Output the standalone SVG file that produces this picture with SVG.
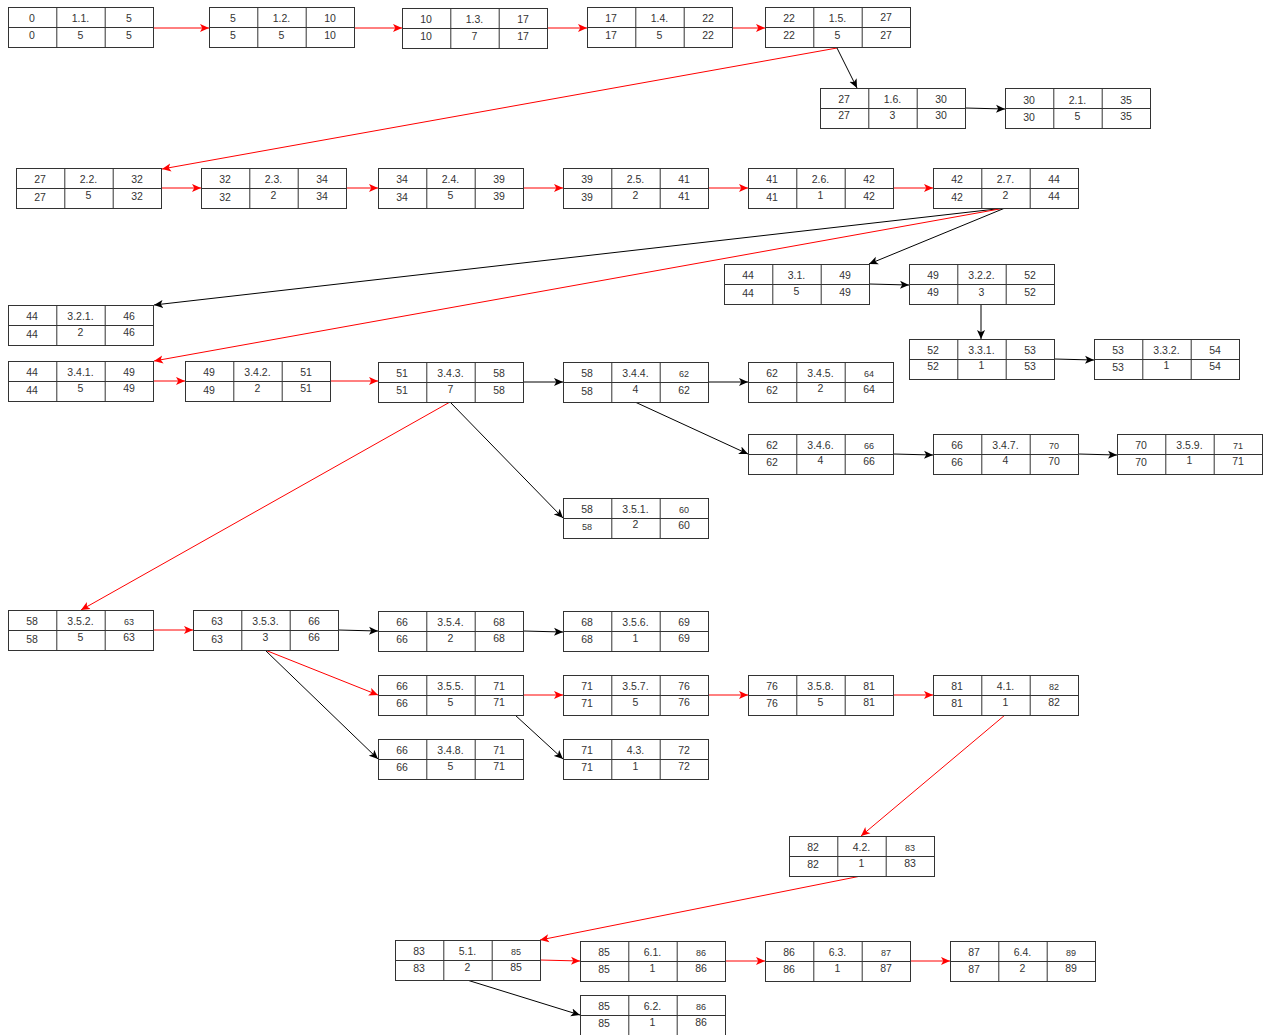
<svg xmlns="http://www.w3.org/2000/svg" xmlns:xlink="http://www.w3.org/1999/xlink" width="1263" height="1035" viewBox="0 0 1263 1035">
<style>
.bx{fill:#fff;stroke:#333;stroke-width:1}
.gl{fill:none;stroke:#333;stroke-width:1}
text{font-family:"Liberation Sans",Arial,sans-serif;font-size:10.5px;fill:#333;text-anchor:middle}
text.s{font-size:9px}
.r{fill:none;stroke:#ff0000;stroke-width:1;marker-end:url(#ar)}
.k{fill:none;stroke:#000;stroke-width:1;marker-end:url(#ak)}
</style>
<defs>
<marker id="ar" viewBox="0 0 10 10" refX="10" refY="5" markerWidth="9" markerHeight="9" orient="auto" markerUnits="userSpaceOnUse"><path d="M0,0.5 L10,5 L0,9.5 L2.5,5 z" fill="#ff0000"/></marker>
<marker id="ak" viewBox="0 0 10 10" refX="10" refY="5" markerWidth="9" markerHeight="9" orient="auto" markerUnits="userSpaceOnUse"><path d="M0,0.5 L10,5 L0,9.5 L2.5,5 z" fill="#000"/></marker>
<g id="box"><rect class="bx" x="0.5" y="0.5" width="145" height="40"/><path class="gl" d="M48.8 0.5V40.5M97.2 0.5V40.5M0.5 20.5H145.5"/></g>
</defs>
<rect width="1263" height="1035" fill="#fff"/>
<g id="connectors">
<path class="r" d="M153 28H209"/>
<path class="r" d="M354 28H402"/>
<path class="r" d="M547 28H587"/>
<path class="r" d="M732 28H765"/>
<path class="r" d="M837 48L162 169"/>
<path class="k" d="M837 48L857 88"/>
<path class="k" d="M965 108L1005 109"/>
<path class="r" d="M161 188H201"/>
<path class="r" d="M346 188H378"/>
<path class="r" d="M523 188H563"/>
<path class="r" d="M708 188H748"/>
<path class="r" d="M893 188H933"/>
<path class="k" d="M1005 208L154 305"/>
<path class="r" d="M1005 208L154 361"/>
<path class="k" d="M1005 208L869 264"/>
<path class="k" d="M869 284L909 285"/>
<path class="k" d="M981 304V339"/>
<path class="k" d="M1054 359L1094 360"/>
<path class="r" d="M153 381H185"/>
<path class="r" d="M330 381H378"/>
<path class="k" d="M523 382H563"/>
<path class="k" d="M708 382L748 382"/>
<path class="k" d="M635 402L748 454"/>
<path class="k" d="M893 454L933 455"/>
<path class="k" d="M1078 454L1117 455"/>
<path class="k" d="M450 402L563 518"/>
<path class="r" d="M450 402L81 610"/>
<path class="r" d="M153 630H193"/>
<path class="k" d="M338 630L378 631"/>
<path class="k" d="M523 631L563 632"/>
<path class="r" d="M265 650L378 695"/>
<path class="k" d="M265 650L378 759"/>
<path class="r" d="M523 695H563"/>
<path class="r" d="M708 695H748"/>
<path class="r" d="M893 695H933"/>
<path class="k" d="M515 715L563 759"/>
<path class="r" d="M1005 715L861 836"/>
<path class="r" d="M861 876L540 940"/>
<path class="r" d="M540 960L580 961"/>
<path class="r" d="M725 961H765"/>
<path class="r" d="M910 961H950"/>
<path class="k" d="M467 980L580 1015"/>
</g>
<g id="n1-1" transform="translate(8,7)"><use href="#box"/><text x="24" y="15">0</text><text x="72.5" y="15">1.1.</text><text x="121" y="15">5</text><text x="24" y="32">0</text><text x="72.5" y="32">5</text><text x="121" y="32">5</text></g>
<g id="n1-2" transform="translate(209,7)"><use href="#box"/><text x="24" y="15">5</text><text x="72.5" y="15">1.2.</text><text x="121" y="15">10</text><text x="24" y="32">5</text><text x="72.5" y="32">5</text><text x="121" y="32">10</text></g>
<g id="n1-3" transform="translate(402,8)"><use href="#box"/><text x="24" y="15">10</text><text x="72.5" y="15">1.3.</text><text x="121" y="15">17</text><text x="24" y="32">10</text><text x="72.5" y="32">7</text><text x="121" y="32">17</text></g>
<g id="n1-4" transform="translate(587,7)"><use href="#box"/><text x="24" y="15">17</text><text x="72.5" y="15">1.4.</text><text x="121" y="15">22</text><text x="24" y="32">17</text><text x="72.5" y="32">5</text><text x="121" y="32">22</text></g>
<g id="n1-5" transform="translate(765,7)"><use href="#box"/><text x="24" y="15">22</text><text x="72.5" y="15">1.5.</text><text x="121" y="14">27</text><text x="24" y="32">22</text><text x="72.5" y="32">5</text><text x="121" y="32">27</text></g>
<g id="n1-6" transform="translate(820,88)"><use href="#box"/><text x="24" y="15">27</text><text x="72.5" y="15">1.6.</text><text x="121" y="15">30</text><text x="24" y="31">27</text><text x="72.5" y="31">3</text><text x="121" y="31">30</text></g>
<g id="n2-1" transform="translate(1005,88)"><use href="#box"/><text x="24" y="16">30</text><text x="72.5" y="16">2.1.</text><text x="121" y="16">35</text><text x="24" y="33">30</text><text x="72.5" y="32">5</text><text x="121" y="32">35</text></g>
<g id="n2-2" transform="translate(16,168)"><use href="#box"/><text x="24" y="15">27</text><text x="72.5" y="15">2.2.</text><text x="121" y="15">32</text><text x="24" y="33">27</text><text x="72.5" y="31">5</text><text x="121" y="32">32</text></g>
<g id="n2-3" transform="translate(201,168)"><use href="#box"/><text x="24" y="15">32</text><text x="72.5" y="15">2.3.</text><text x="121" y="15">34</text><text x="24" y="33">32</text><text x="72.5" y="31">2</text><text x="121" y="32">34</text></g>
<g id="n2-4" transform="translate(378,168)"><use href="#box"/><text x="24" y="15">34</text><text x="72.5" y="15">2.4.</text><text x="121" y="15">39</text><text x="24" y="33">34</text><text x="72.5" y="31">5</text><text x="121" y="32">39</text></g>
<g id="n2-5" transform="translate(563,168)"><use href="#box"/><text x="24" y="15">39</text><text x="72.5" y="15">2.5.</text><text x="121" y="15">41</text><text x="24" y="33">39</text><text x="72.5" y="31">2</text><text x="121" y="32">41</text></g>
<g id="n2-6" transform="translate(748,168)"><use href="#box"/><text x="24" y="15">41</text><text x="72.5" y="15">2.6.</text><text x="121" y="15">42</text><text x="24" y="33">41</text><text x="72.5" y="31">1</text><text x="121" y="32">42</text></g>
<g id="n2-7" transform="translate(933,168)"><use href="#box"/><text x="24" y="15">42</text><text x="72.5" y="15">2.7.</text><text x="121" y="15">44</text><text x="24" y="33">42</text><text x="72.5" y="31">2</text><text x="121" y="32">44</text></g>
<g id="n3-1" transform="translate(724,264)"><use href="#box"/><text x="24" y="15">44</text><text x="72.5" y="15">3.1.</text><text x="121" y="15">49</text><text x="24" y="33">44</text><text x="72.5" y="31">5</text><text x="121" y="32">49</text></g>
<g id="n3-2-2" transform="translate(909,264)"><use href="#box"/><text x="24" y="15">49</text><text x="72.5" y="15">3.2.2.</text><text x="121" y="15">52</text><text x="24" y="32">49</text><text x="72.5" y="32">3</text><text x="121" y="32">52</text></g>
<g id="n3-2-1" transform="translate(8,305)"><use href="#box"/><text x="24" y="15">44</text><text x="72.5" y="15">3.2.1.</text><text x="121" y="15">46</text><text x="24" y="33">44</text><text x="72.5" y="31">2</text><text x="121" y="31">46</text></g>
<g id="n3-3-1" transform="translate(909,339)"><use href="#box"/><text x="24" y="15">52</text><text x="72.5" y="15">3.3.1.</text><text x="121" y="15">53</text><text x="24" y="31">52</text><text x="72.5" y="30">1</text><text x="121" y="31">53</text></g>
<g id="n3-3-2" transform="translate(1094,339)"><use href="#box"/><text x="24" y="15">53</text><text x="72.5" y="15">3.3.2.</text><text x="121" y="15">54</text><text x="24" y="32">53</text><text x="72.5" y="30">1</text><text x="121" y="31">54</text></g>
<g id="n3-4-1" transform="translate(8,361)"><use href="#box"/><text x="24" y="15">44</text><text x="72.5" y="15">3.4.1.</text><text x="121" y="15">49</text><text x="24" y="33">44</text><text x="72.5" y="31">5</text><text x="121" y="31">49</text></g>
<g id="n3-4-2" transform="translate(185,361)"><use href="#box"/><text x="24" y="15">49</text><text x="72.5" y="15">3.4.2.</text><text x="121" y="15">51</text><text x="24" y="33">49</text><text x="72.5" y="31">2</text><text x="121" y="31">51</text></g>
<g id="n3-4-3" transform="translate(378,362)"><use href="#box"/><text x="24" y="15">51</text><text x="72.5" y="15">3.4.3.</text><text x="121" y="15">58</text><text x="24" y="32">51</text><text x="72.5" y="31">7</text><text x="121" y="32">58</text></g>
<g id="n3-4-4" transform="translate(563,362)"><use href="#box"/><text x="24" y="15">58</text><text x="72.5" y="15">3.4.4.</text><text class="s" x="121" y="15">62</text><text x="24" y="33">58</text><text x="72.5" y="31">4</text><text x="121" y="32">62</text></g>
<g id="n3-4-5" transform="translate(748,362)"><use href="#box"/><text x="24" y="15">62</text><text x="72.5" y="15">3.4.5.</text><text class="s" x="121" y="15">64</text><text x="24" y="32">62</text><text x="72.5" y="30">2</text><text x="121" y="31">64</text></g>
<g id="n3-4-6" transform="translate(748,434)"><use href="#box"/><text x="24" y="15">62</text><text x="72.5" y="15">3.4.6.</text><text class="s" x="121" y="15">66</text><text x="24" y="32">62</text><text x="72.5" y="30">4</text><text x="121" y="31">66</text></g>
<g id="n3-4-7" transform="translate(933,434)"><use href="#box"/><text x="24" y="15">66</text><text x="72.5" y="15">3.4.7.</text><text class="s" x="121" y="15">70</text><text x="24" y="32">66</text><text x="72.5" y="30">4</text><text x="121" y="31">70</text></g>
<g id="n3-5-9" transform="translate(1117,434)"><use href="#box"/><text x="24" y="15">70</text><text x="72.5" y="15">3.5.9.</text><text class="s" x="121" y="15">71</text><text x="24" y="32">70</text><text x="72.5" y="30">1</text><text x="121" y="31">71</text></g>
<g id="n3-5-1" transform="translate(563,498)"><use href="#box"/><text x="24" y="15">58</text><text x="72.5" y="15">3.5.1.</text><text class="s" x="121" y="15">60</text><text class="s" x="24" y="32">58</text><text x="72.5" y="30">2</text><text x="121" y="31">60</text></g>
<g id="n3-5-2" transform="translate(8,610)"><use href="#box"/><text x="24" y="15">58</text><text x="72.5" y="15">3.5.2.</text><text class="s" x="121" y="15">63</text><text x="24" y="33">58</text><text x="72.5" y="31">5</text><text x="121" y="31">63</text></g>
<g id="n3-5-3" transform="translate(193,610)"><use href="#box"/><text x="24" y="15">63</text><text x="72.5" y="15">3.5.3.</text><text x="121" y="15">66</text><text x="24" y="33">63</text><text x="72.5" y="31">3</text><text x="121" y="31">66</text></g>
<g id="n3-5-4" transform="translate(378,611)"><use href="#box"/><text x="24" y="15">66</text><text x="72.5" y="15">3.5.4.</text><text x="121" y="15">68</text><text x="24" y="32">66</text><text x="72.5" y="31">2</text><text x="121" y="31">68</text></g>
<g id="n3-5-6" transform="translate(563,611)"><use href="#box"/><text x="24" y="15">68</text><text x="72.5" y="15">3.5.6.</text><text x="121" y="15">69</text><text x="24" y="32">68</text><text x="72.5" y="31">1</text><text x="121" y="31">69</text></g>
<g id="n3-5-5" transform="translate(378,675)"><use href="#box"/><text x="24" y="15">66</text><text x="72.5" y="15">3.5.5.</text><text x="121" y="15">71</text><text x="24" y="32">66</text><text x="72.5" y="31">5</text><text x="121" y="31">71</text></g>
<g id="n3-5-7" transform="translate(563,675)"><use href="#box"/><text x="24" y="15">71</text><text x="72.5" y="15">3.5.7.</text><text x="121" y="15">76</text><text x="24" y="32">71</text><text x="72.5" y="31">5</text><text x="121" y="31">76</text></g>
<g id="n3-5-8" transform="translate(748,675)"><use href="#box"/><text x="24" y="15">76</text><text x="72.5" y="15">3.5.8.</text><text x="121" y="15">81</text><text x="24" y="32">76</text><text x="72.5" y="31">5</text><text x="121" y="31">81</text></g>
<g id="n4-1" transform="translate(933,675)"><use href="#box"/><text x="24" y="15">81</text><text x="72.5" y="15">4.1.</text><text class="s" x="121" y="15">82</text><text x="24" y="32">81</text><text x="72.5" y="31">1</text><text x="121" y="31">82</text></g>
<g id="n3-4-8" transform="translate(378,739)"><use href="#box"/><text x="24" y="15">66</text><text x="72.5" y="15">3.4.8.</text><text x="121" y="15">71</text><text x="24" y="32">66</text><text x="72.5" y="31">5</text><text x="121" y="31">71</text></g>
<g id="n4-3" transform="translate(563,739)"><use href="#box"/><text x="24" y="15">71</text><text x="72.5" y="15">4.3.</text><text x="121" y="15">72</text><text x="24" y="32">71</text><text x="72.5" y="31">1</text><text x="121" y="31">72</text></g>
<g id="n4-2" transform="translate(789,836)"><use href="#box"/><text x="24" y="15">82</text><text x="72.5" y="15">4.2.</text><text class="s" x="121" y="15">83</text><text x="24" y="32">82</text><text x="72.5" y="31">1</text><text x="121" y="31">83</text></g>
<g id="n5-1" transform="translate(395,940)"><use href="#box"/><text x="24" y="15">83</text><text x="72.5" y="15">5.1.</text><text class="s" x="121" y="15">85</text><text x="24" y="32">83</text><text x="72.5" y="31">2</text><text x="121" y="31">85</text></g>
<g id="n6-1" transform="translate(580,941)"><use href="#box"/><text x="24" y="15">85</text><text x="72.5" y="15">6.1.</text><text class="s" x="121" y="15">86</text><text x="24" y="32">85</text><text x="72.5" y="31">1</text><text x="121" y="31">86</text></g>
<g id="n6-3" transform="translate(765,941)"><use href="#box"/><text x="24" y="15">86</text><text x="72.5" y="15">6.3.</text><text class="s" x="121" y="15">87</text><text x="24" y="32">86</text><text x="72.5" y="31">1</text><text x="121" y="31">87</text></g>
<g id="n6-4" transform="translate(950,941)"><use href="#box"/><text x="24" y="15">87</text><text x="72.5" y="15">6.4.</text><text class="s" x="121" y="15">89</text><text x="24" y="32">87</text><text x="72.5" y="31">2</text><text x="121" y="31">89</text></g>
<g id="n6-2" transform="translate(580,995)"><use href="#box"/><text x="24" y="15">85</text><text x="72.5" y="15">6.2.</text><text class="s" x="121" y="15">86</text><text x="24" y="32">85</text><text x="72.5" y="31">1</text><text x="121" y="31">86</text></g>
</svg>
